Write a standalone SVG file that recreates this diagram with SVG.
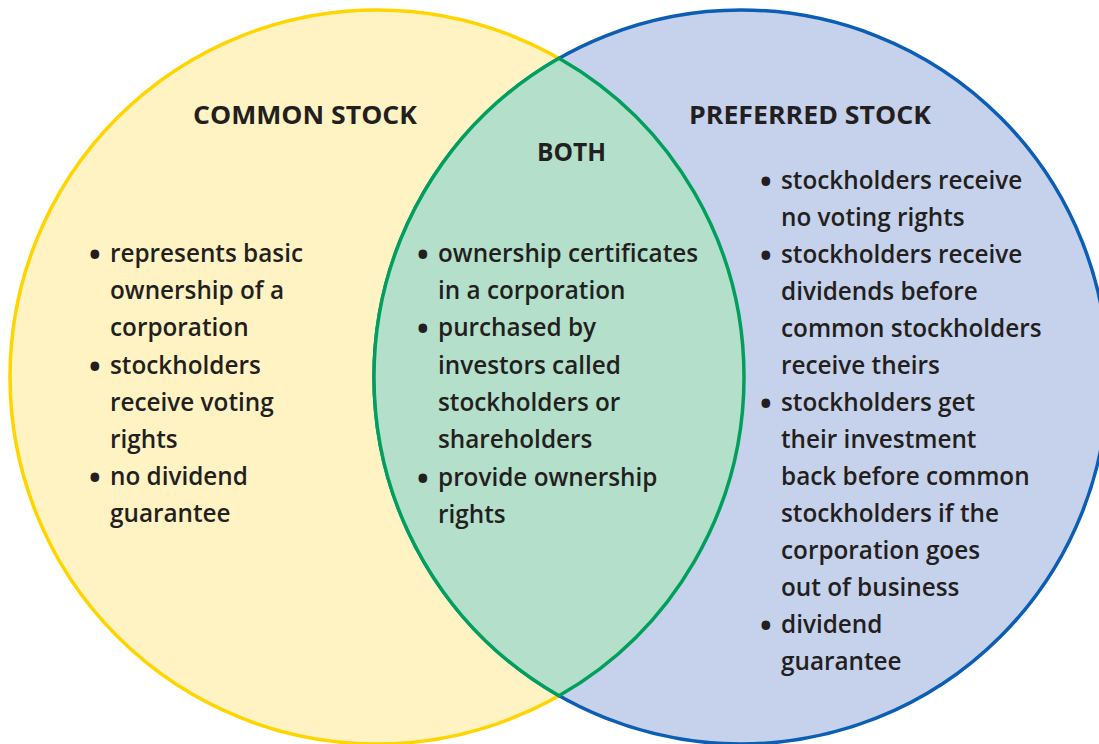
<svg xmlns="http://www.w3.org/2000/svg" width="1099" height="744" viewBox="0 0 1099 744">
  <style>
    .hdr { font-family: "Open Sans", "Noto Sans", sans-serif; font-weight: 700; font-size: 25px; fill: #231F20; }
    .txt { font-family: "Open Sans", "Noto Sans", sans-serif; font-weight: 600; font-size: 24.3px; fill: #231F20; }
    .bul { font-family: "Open Sans", "Noto Sans", sans-serif; font-weight: 700; font-size: 31px; fill: #231F20; }
  </style>
  <rect width="1099" height="744" fill="#FFFFFF"/>
  <g id="shapes">
    <circle id="circle-common" cx="377" cy="377" r="367" fill="#FFF3C4" stroke="#FFD500" stroke-width="3.5"/>
    <circle id="circle-preferred" cx="741" cy="377" r="367" fill="#C6D2EB" stroke="#0B5EB3" stroke-width="3.5"/>
    <path id="lens-both" d="M559,58.3 A367,367 0 0 1 559,695.7 A367,367 0 0 1 559,58.3 Z" fill="#B3DFCB" stroke="#00A05C" stroke-width="3.5"/>
  </g>
  <g id="connectors"/>
  <g id="node-common">
    <text class="hdr" x="193" y="124" textLength="224" lengthAdjust="spacingAndGlyphs">COMMON STOCK</text>
    <text class="bul" x="89" y="265">•</text>
    <text class="txt" x="110" y="262">represents basic</text>
    <text class="txt" x="110" y="299">ownership of a</text>
    <text class="txt" x="110" y="336">corporation</text>
    <text class="bul" x="89" y="377">•</text>
    <text class="txt" x="110" y="374">stockholders</text>
    <text class="txt" x="110" y="411">receive voting</text>
    <text class="txt" x="110" y="448">rights</text>
    <text class="bul" x="89" y="488">•</text>
    <text class="txt" x="110" y="485">no dividend</text>
    <text class="txt" x="110" y="522">guarantee</text>
  </g>
  <g id="node-both">
    <text class="hdr" x="537" y="161" textLength="69" lengthAdjust="spacingAndGlyphs">BOTH</text>
    <text class="bul" x="417" y="265">•</text>
    <text class="txt" x="438" y="262">ownership certificates</text>
    <text class="txt" x="438" y="299">in a corporation</text>
    <text class="bul" x="417" y="339">•</text>
    <text class="txt" x="438" y="336">purchased by</text>
    <text class="txt" x="438" y="374">investors called</text>
    <text class="txt" x="438" y="411">stockholders or</text>
    <text class="txt" x="438" y="448">shareholders</text>
    <text class="bul" x="417" y="489">•</text>
    <text class="txt" x="438" y="486">provide ownership</text>
    <text class="txt" x="438" y="523">rights</text>
  </g>
  <g id="node-preferred">
    <text class="hdr" x="689" y="124" textLength="242" lengthAdjust="spacingAndGlyphs">PREFERRED STOCK</text>
    <text class="bul" x="760" y="192">•</text>
    <text class="txt" x="781" y="189">stockholders receive</text>
    <text class="txt" x="781" y="226">no voting rights</text>
    <text class="bul" x="760" y="266">•</text>
    <text class="txt" x="781" y="263">stockholders receive</text>
    <text class="txt" x="781" y="300">dividends before</text>
    <text class="txt" x="781" y="337">common stockholders</text>
    <text class="txt" x="781" y="374">receive theirs</text>
    <text class="bul" x="760" y="414">•</text>
    <text class="txt" x="781" y="411">stockholders get</text>
    <text class="txt" x="781" y="448">their investment</text>
    <text class="txt" x="781" y="485">back before common</text>
    <text class="txt" x="781" y="522">stockholders if the</text>
    <text class="txt" x="781" y="559">corporation goes</text>
    <text class="txt" x="781" y="596">out of business</text>
    <text class="bul" x="760" y="636">•</text>
    <text class="txt" x="781" y="633">dividend</text>
    <text class="txt" x="781" y="670">guarantee</text>
  </g>
</svg>
